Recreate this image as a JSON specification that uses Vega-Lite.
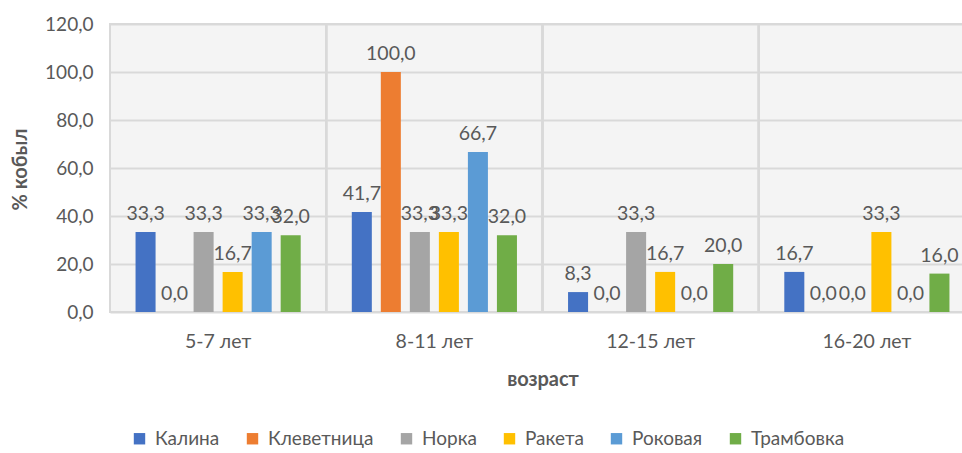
{
  "$schema": "https://vega.github.io/schema/vega-lite/v6.json",
  "width": 865,
  "height": 288,
  "autosize": {"type": "none"},
  "padding": {"left": 110, "top": 24, "right": 0, "bottom": 141},
  "background": "#ffffff",
  "config": {
    "locale": {"number": {"decimal": ",", "thousands": " ", "grouping": [3], "currency": ["", ""]}},
    "font": "Lato",
    "view": {"fill": "#F4F4F4", "stroke": "#D9D9D9", "strokeWidth": 2}
  },
  "data": {
    "values": [
      {"age": "5-7 лет", "horse": "Калина", "v": 33.3},
      {"age": "5-7 лет", "horse": "Клеветница", "v": 0.0},
      {"age": "5-7 лет", "horse": "Норка", "v": 33.3},
      {"age": "5-7 лет", "horse": "Ракета", "v": 16.7},
      {"age": "5-7 лет", "horse": "Роковая", "v": 33.3},
      {"age": "5-7 лет", "horse": "Трамбовка", "v": 32.0},
      {"age": "8-11 лет", "horse": "Калина", "v": 41.7},
      {"age": "8-11 лет", "horse": "Клеветница", "v": 100.0},
      {"age": "8-11 лет", "horse": "Норка", "v": 33.3},
      {"age": "8-11 лет", "horse": "Ракета", "v": 33.3},
      {"age": "8-11 лет", "horse": "Роковая", "v": 66.7},
      {"age": "8-11 лет", "horse": "Трамбовка", "v": 32.0},
      {"age": "12-15 лет", "horse": "Калина", "v": 8.3},
      {"age": "12-15 лет", "horse": "Клеветница", "v": 0.0},
      {"age": "12-15 лет", "horse": "Норка", "v": 33.3},
      {"age": "12-15 лет", "horse": "Ракета", "v": 16.7},
      {"age": "12-15 лет", "horse": "Роковая", "v": 0.0},
      {"age": "12-15 лет", "horse": "Трамбовка", "v": 20.0},
      {"age": "16-20 лет", "horse": "Калина", "v": 16.7},
      {"age": "16-20 лет", "horse": "Клеветница", "v": 0.0},
      {"age": "16-20 лет", "horse": "Норка", "v": 0.0},
      {"age": "16-20 лет", "horse": "Ракета", "v": 33.3},
      {"age": "16-20 лет", "horse": "Роковая", "v": 0.0},
      {"age": "16-20 лет", "horse": "Трамбовка", "v": 16.0}
    ]
  },
  "encoding": {
    "x": {
      "field": "age", "type": "nominal", "sort": null,
      "scale": {"paddingInner": 0, "paddingOuter": 0},
      "axis": {
        "title": "возраст", "titleFont": "Lato", "titleFontSize": 20, "titleFontWeight": "bold", "titleColor": "#595959",
        "titleY": 67, "titleBaseline": "middle",
        "labelAngle": 0, "labelFontSize": 19.5, "labelColor": "#595959", "labelPadding": 20,
        "ticks": false, "domain": false, "grid": false
      }
    },
    "xOffset": {
      "field": "horse", "type": "nominal", "sort": null,
      "scale": {"paddingInner": 0.31, "paddingOuter": 0.88}
    }
  },
  "layer": [
    {
      "mark": {"type": "rule", "color": "#D9D9D9", "strokeWidth": 2},
      "encoding": {
        "x": {"field": "age", "type": "nominal", "sort": null, "bandPosition": 0},
        "xOffset": null
      }
    },
    {
      "mark": {"type": "bar"},
      "encoding": {
        "y": {
          "field": "v", "type": "quantitative",
          "scale": {"domain": [0, 120]},
          "axis": {
            "title": "% кобыл", "titleFontSize": 20, "titleFontWeight": "bold", "titleColor": "#595959",
            "titleX": -90, "titleY": 145, "titleAngle": -90, "titleAlign": "center", "titleBaseline": "middle",
            "values": [0, 20, 40, 60, 80, 100, 120], "format": ".1f",
            "labelFontSize": 19, "labelColor": "#595959", "labelPadding": 17,
            "ticks": false, "domain": false,
            "grid": true, "gridColor": "#D9D9D9", "gridWidth": 2
          }
        },
        "color": {
          "field": "horse", "type": "nominal", "sort": null,
          "scale": {
            "domain": ["Калина", "Клеветница", "Норка", "Ракета", "Роковая", "Трамбовка"],
            "range": ["#4472C4", "#ED7D31", "#A5A5A5", "#FFC000", "#5B9BD5", "#70AD47"]
          },
          "legend": {
            "title": null, "orient": "none", "direction": "horizontal", "columns": 6,
            "legendX": 20, "legendY": 405,
            "symbolType": "square", "symbolSize": 130, "symbolStrokeWidth": 0,
            "labelFontSize": 19, "labelColor": "#595959", "columnPadding": 23, "labelOffset": 6
          }
        }
      }
    },
    {
      "mark": {"type": "text", "baseline": "bottom", "dy": -8, "fontSize": 19.5, "color": "#595959"},
      "encoding": {
        "y": {"field": "v", "type": "quantitative"},
        "text": {"field": "v", "type": "quantitative", "format": ".1f"}
      }
    }
  ]
}
